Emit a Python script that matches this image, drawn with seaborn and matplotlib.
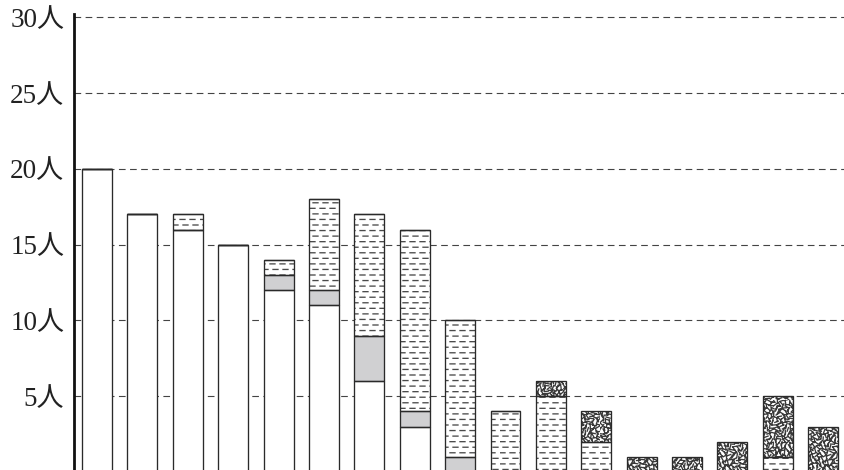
import numpy as np
import pandas as pd
import matplotlib
matplotlib.use("Agg")
import matplotlib.pyplot as plt
import matplotlib.hatch as mhatch
from matplotlib.path import Path
import seaborn as sns

# bar categories (x labels are cut off in the source picture)
categories = [str(i) for i in range(1, 18)]
# stacked segments, bottom to top
white_part = [20, 17, 16, 15, 12, 11, 6, 3, 0, 0, 0, 0, 0, 0, 0, 0, 0]
gray_part = [0, 0, 0, 0, 1, 1, 3, 1, 1, 0, 0, 0, 0, 0, 0, 0, 0]
dashed_part = [0, 0, 1, 0, 1, 6, 8, 12, 9, 4, 5, 2, 0, 0, 0, 1, 0]
noise_part = [0, 0, 0, 0, 0, 0, 0, 0, 0, 0, 1, 2, 1, 1, 2, 4, 3]
ytick_vals = [5, 10, 15, 20, 25, 30]
ytick_labels = ["5人", "10人", "15人", "20人", "25人", "30人"]


# custom hatch: dashed horizontal lines (replaces '-')
class DashedHorizontal(mhatch.HatchPatternBase):
    n_dash = 10

    def __init__(self, hatch, density):
        self.num_lines = int(hatch.count('-') * density)
        self.num_vertices = self.num_lines * self.n_dash * 2

    def set_vertices_and_codes(self, vertices, codes):
        rows = (np.arange(self.num_lines) + 0.5) / self.num_lines
        period = 1.0 / self.n_dash
        starts = np.arange(self.n_dash) * period
        yy, xx = np.meshgrid(rows, starts, indexing="ij")
        # stagger every other row a little
        shift = (np.arange(self.num_lines) % 2) * period * 0.3
        xx = (xx + shift[:, None]).ravel()
        yy = yy.ravel()
        vertices[0::2, 0] = xx
        vertices[0::2, 1] = yy
        vertices[1::2, 0] = xx + period * 0.5
        vertices[1::2, 1] = yy
        codes[0::2] = Path.MOVETO
        codes[1::2] = Path.LINETO


# custom hatch: short scattered strokes (replaces '*')
class NoiseStrokes(mhatch.HatchPatternBase):
    n_strokes = 1100

    def __init__(self, hatch, density):
        self.count = hatch.count('*')
        self.num_vertices = self.n_strokes * 2 if self.count else 0

    def set_vertices_and_codes(self, vertices, codes):
        i = np.arange(self.n_strokes, dtype=float)
        # evenly spread centres, scrambled directions
        cx = (i * 0.7548776662 + 0.5) % 1.0
        cy = (i * 0.5698402910 + 0.5) % 1.0
        ang = ((np.sin(i * 12.9898) * 437.585) % 1.0) * np.pi
        half = 0.019
        vertices[0::2, 0] = cx - half * np.cos(ang)
        vertices[0::2, 1] = cy - half * np.sin(ang)
        vertices[1::2, 0] = cx + half * np.cos(ang)
        vertices[1::2, 1] = cy + half * np.sin(ang)
        codes[0::2] = Path.MOVETO
        codes[1::2] = Path.LINETO


mhatch._hatch_types[:] = [DashedHorizontal if t is mhatch.HorizontalHatch else
                          NoiseStrokes if t is mhatch.Stars else t
                          for t in mhatch._hatch_types]

sns.set_style("white")
plt.rcParams['hatch.linewidth'] = 0.95

fig = plt.figure(figsize=(8.45, 4.70), dpi=100)
ax = fig.add_axes([74 / 845, 0, 771 / 845, 456 / 470])

segments = [
    (white_part, "white", None, "#333333"),
    (gray_part, "#d0d0d2", None, "#333333"),
    (dashed_part, "white", "---", "#4a4a4a"),
    (noise_part, "white", "*", "#3a3a3a"),
]

bottom = np.zeros(len(categories))
for vals, fc, hatch, hc in segments:
    df = pd.DataFrame({"cat": categories, "val": vals})
    # fill (with hatch)
    sns.barplot(data=df, x="cat", y="val", color=fc, saturation=1,
                errorbar=None, width=0.66, bottom=bottom, hatch=hatch,
                edgecolor=hc, linewidth=0, ax=ax, zorder=2)
    # outline
    sns.barplot(data=df, x="cat", y="val", color="#2a2a2a", fill=False,
                errorbar=None, width=0.66, bottom=bottom,
                linewidth=0.95, ax=ax, zorder=3)
    bottom = bottom + np.array(vals)

ax.set_xlim(-0.507, 16.48)
ax.set_ylim(0.13, 30.23)
ax.set_yticks(ytick_vals)
ax.set_yticklabels(ytick_labels, family=["Liberation Serif", "Noto Sans CJK JP"],
                   fontsize=19.5)
ax.tick_params(axis="y", length=0, pad=7, colors="#222222")
ax.set_xticks([])
ax.set_xlabel("")
ax.set_ylabel("")
ax.yaxis.grid(True, color="#444444", linestyle=(0, (6, 4)), linewidth=0.8)
ax.xaxis.grid(False)
ax.set_axisbelow(True)
for s in ["top", "right", "bottom"]:
    ax.spines[s].set_visible(False)
ax.spines["left"].set_linewidth(2.0)
ax.spines["left"].set_color("#111111")

fig.savefig("out.png", dpi=100)
